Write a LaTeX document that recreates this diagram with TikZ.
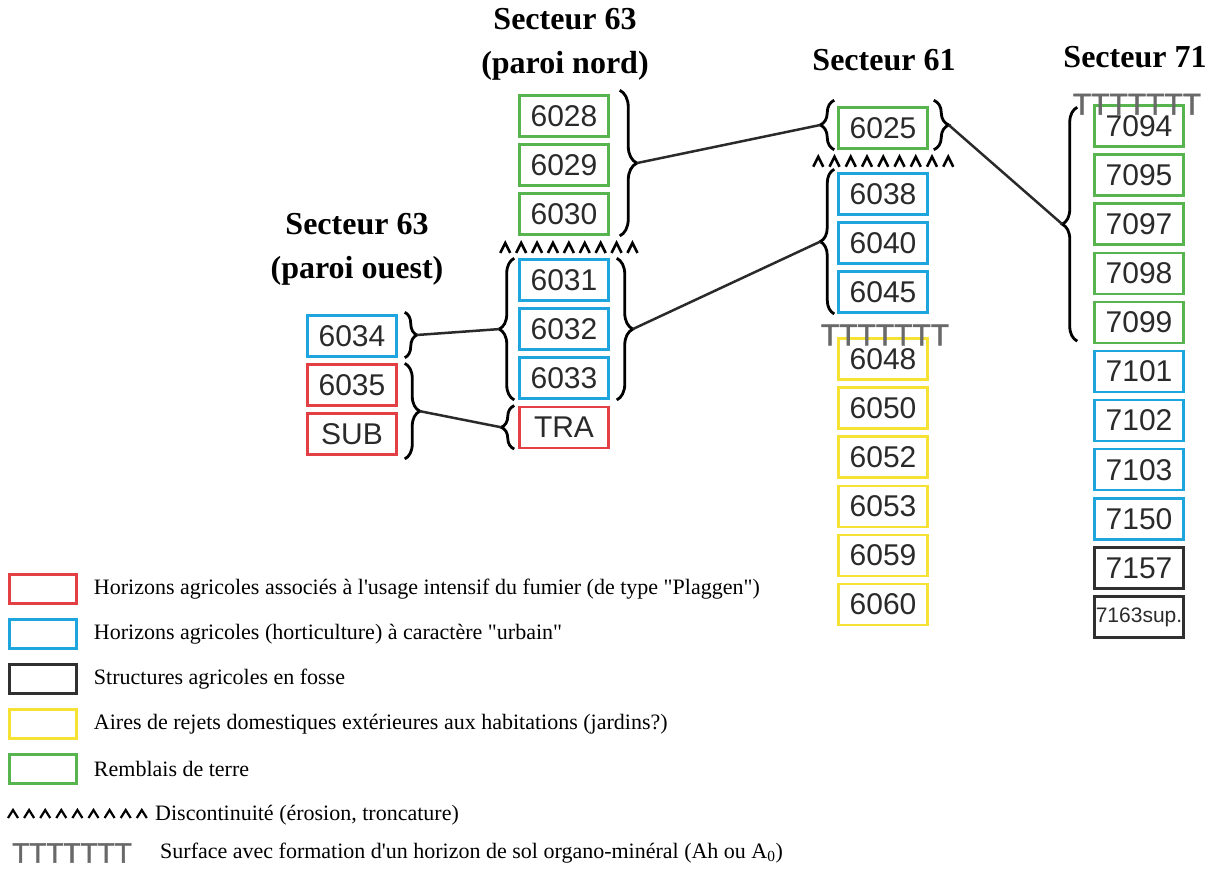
\documentclass[tikz,border=0pt]{standalone}
\usepackage{fontspec}
\setmainfont{Liberation Serif}
\newfontfamily\keyfont{Liberation Serif}
\newfontfamily\boxfont{Liberation Sans}
\newfontfamily\surffont{Liberation Sans}[FakeBold=1.6]
\usetikzlibrary{positioning,calc,decorations.pathreplacing}
\definecolor{hred}{RGB}{226,64,68}
\definecolor{hblue}{RGB}{30,165,222}
\definecolor{hgreen}{RGB}{88,180,78}
\definecolor{hyellow}{RGB}{246,226,52}
\definecolor{hblack}{RGB}{48,48,48}
\definecolor{tgray}{RGB}{105,105,105}
\definecolor{ink}{RGB}{42,42,42}

\begin{document}
\begin{tikzpicture}[x=1pt,y=-1pt,
horizon/.style={draw,line width=2.5pt,minimum width=89pt,minimum height=41pt,inner sep=0pt,
  font=\boxfont\fontsize{30}{36}\selectfont,text=ink},
redh/.style={horizon,draw=hred},
blueh/.style={horizon,draw=hblue},
greenh/.style={horizon,draw=hgreen},
yellowh/.style={horizon,draw=hyellow},
blackh/.style={horizon,draw=hblack},
swatch/.style={draw,line width=2.5pt,minimum width=67pt,minimum height=29pt,inner sep=0pt},
keytext/.style={anchor=west,inner sep=0pt,font=\keyfont\fontsize{22}{24}\selectfont},
title/.style={align=center,font=\bfseries\fontsize{32}{44}\selectfont},
brc/.style={decorate,decoration={brace,amplitude=#1},line width=2.8pt,draw=black},
link/.style={line width=2.5pt,draw=ink},
caret/.style={line width=2.6pt,line join=miter,line cap=butt,draw=black},
tsurf/.style={inner sep=0pt,text=tgray,font=\surffont\fontsize{30}{30}\selectfont},
node distance=5.6pt]
\useasboundingbox (0,0) rectangle (1209,869);

% titles
\node[title] (t63n) at (565,44) {Secteur 63\\(paroi nord)};
\node[title] (t63o) at (357,249) {Secteur 63\\(paroi ouest)};
\node[title] (t61) at (884,60) {Secteur 61};
\node[title] (t71) at (1135,57) {Secteur 71};

% secteur 63, paroi nord
\node[greenh] (n6028) at (564,116) {6028};
\node[greenh,below=of n6028] (n6029) {6029};
\node[greenh,below=of n6029] (n6030) {6030};
\node[blueh] (n6031) at (564,280) {6031};
\node[blueh,below=of n6031] (n6032) {6032};
\node[blueh,below=of n6032] (n6033) {6033};
\node[redh,below=of n6033] (nTRA) {TRA};

% secteur 63, paroi ouest
\node[blueh] (n6034) at (352,336) {6034};
\node[redh,below=of n6034] (n6035) {6035};
\node[redh,below=of n6035] (nSUB) {SUB};

% secteur 61
\node[greenh] (n6025) at (883,128) {6025};
\node[blueh] (n6038) at (883,194) {6038};
\node[blueh,below=of n6038] (n6040) {6040};
\node[blueh,below=of n6040] (n6045) {6045};
\node[yellowh] (n6048) at (883,359) {6048};
\node[yellowh,below=of n6048] (n6050) {6050};
\node[yellowh,below=of n6050] (n6052) {6052};
\node[yellowh,below=of n6052] (n6053) {6053};
\node[yellowh,below=of n6053] (n6059) {6059};
\node[yellowh,below=of n6059] (n6060) {6060};

% secteur 71
\node[greenh] (n7094) at (1139,126) {7094};
\node[greenh,below=of n7094] (n7095) {7095};
\node[greenh,below=of n7095] (n7097) {7097};
\node[greenh,below=of n7097] (n7098) {7098};
\node[greenh,below=of n7098] (n7099) {7099};
\node[blueh,below=of n7099] (n7101) {7101};
\node[blueh,below=of n7101] (n7102) {7102};
\node[blueh,below=of n7102] (n7103) {7103};
\node[blueh,below=of n7103] (n7150) {7150};
\node[blackh,below=of n7150] (n7157) {7157};
\node[blackh,below=of n7157,font=\boxfont\fontsize{21}{26}\selectfont] (n7163) {7163sup.};

% surfaces
\node[tsurf] (s61) at ($(n6045.south)+(2,21)$) {TTTTTTT};
\node[tsurf] (s71) at ($(n7094.north)+(-2,0)$) {TTTTTTT};

% discontinuites
\foreach \i in {0,...,8}
  \draw[caret] ($(n6030.south west)+(-18+\i*15.9,17)$) -- ++(5,-10) -- ++(5,10);
\foreach \i in {0,...,8}
  \draw[caret] ($(n6025.south west)+(-24+\i*16.25,17)$) -- ++(5,-10) -- ++(5,10);

% accolades
\draw[brc=17pt] ([xshift=10pt,yshift=4pt]n6028.north east) -- coordinate[xshift=17pt] (bNordV) ([xshift=10pt]n6030.south east);
\draw[brc=16pt] ([xshift=7pt]n6031.north east) -- coordinate[xshift=16pt] (bNordB) ([xshift=7pt]n6033.south east);
\draw[brc=15pt] ([xshift=-4pt]n6033.south west) -- coordinate[xshift=-15pt] (bNordA) ([xshift=-4pt]n6031.north west);
\draw[brc=13pt] ([xshift=-4pt]nTRA.south west) -- coordinate[xshift=-13pt] (bTRA) ([xshift=-4pt]nTRA.north west);
\draw[brc=12pt] ([xshift=7pt,yshift=2pt]n6034.north east) -- coordinate[xshift=12pt] (bOuest) ([xshift=7pt]n6034.south east);
\draw[brc=15pt] ([xshift=7pt]n6035.north east) -- coordinate[xshift=15pt] (bSUB) ([xshift=7pt,yshift=-3pt]nSUB.south east);
\draw[brc=14pt] ([xshift=-3pt]n6025.south west) -- coordinate[xshift=-14pt] (b61L) ([xshift=-3pt,yshift=6pt]n6025.north west);
\draw[brc=15pt] ([xshift=5pt,yshift=6pt]n6025.north east) -- coordinate[xshift=15pt] (b61R) ([xshift=5pt]n6025.south east);
\draw[brc=14pt] ([xshift=-3pt]n6045.south west) -- coordinate[xshift=-14pt] (b61B) ([xshift=-3pt,yshift=3pt]n6038.north west);
\draw[brc=15pt] ([xshift=-16pt,yshift=3pt]n7099.south west) -- coordinate[xshift=-15pt] (b71) ([xshift=-16pt,yshift=-3pt]n7094.north west);

% correlations
\draw[link] (bNordV) -- (b61L);
\draw[link] (bNordB) -- (b61B);
\draw[link] (bOuest) -- (bNordA);
\draw[link] (bSUB) -- (bTRA);
\draw[link] (b61R) -- (b71);

% legende
\node[swatch,draw=hred] (k1) at (43,589) {};
\node[swatch,draw=hblue,below=13.5pt of k1] (k2) {};
\node[swatch,draw=hblack,below=13.5pt of k2] (k3) {};
\node[swatch,draw=hyellow,below=13.5pt of k3] (k4) {};
\node[swatch,draw=hgreen,below=13.5pt of k4] (k5) {};
\node[keytext,right=16pt of k1] (l1) {Horizons agricoles associés à l'usage intensif du fumier (de type "Plaggen")};
\node[keytext,right=16pt of k2] (l2) {Horizons agricoles (horticulture) à caractère "urbain"};
\node[keytext,right=16pt of k3] (l3) {Structures agricoles en fosse};
\node[keytext,right=16pt of k4] (l4) {Aires de rejets domestiques extérieures aux habitations (jardins?)};
\node[keytext,right=16pt of k5] (l5) {Remblais de terre};
\node[keytext] (l6) at (155,815) {Discontinuité (érosion, troncature)};
\foreach \i in {0,...,8}
  \draw[caret,line width=2.2pt] ($(l6.west)+(-147+\i*16.1,3)$) -- ++(5,-8) -- ++(5,8);
\node[tsurf,font=\surffont\fontsize{28}{28}\selectfont] (k7) at (72,853) {TTTTTTT};
\node[keytext] (l7) at (160,853) {Surface avec formation d'un horizon de sol organo-minéral (Ah ou A\textsubscript{0})};
\end{tikzpicture}
\end{document}
